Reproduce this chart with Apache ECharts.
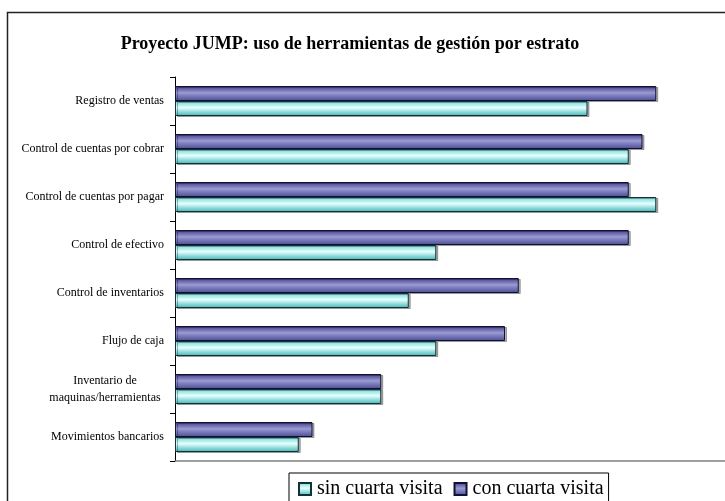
<!DOCTYPE html>
<html>
<head>
<meta charset="utf-8">
<script src="https://cdn.jsdelivr.net/npm/echarts@6/dist/echarts.min.js"></script>
<style>
  html, body { margin: 0; padding: 0; background: #fff; }
  #chart { width: 725px; height: 501px; }
</style>
</head>
<body>
<div id="chart"></div>
<script>
const categories = [
  'Registro de ventas',
  'Control de cuentas por cobrar',
  'Control de cuentas por pagar',
  'Control de efectivo',
  'Control de inventarios',
  'Flujo de caja',
  'Inventario de maquinas/herramientas',
  'Movimientos bancarios'
];
const conCuarta = [35, 34, 33, 33, 25, 24, 15, 10];
const sinCuarta = [30, 33, 35, 19, 17, 19, 15, 9];

const font = '"Liberation Serif", "DejaVu Serif", serif';

const purpleFill = new echarts.graphic.LinearGradient(0, 0, 0, 1, [
  { offset: 0, color: '#3c3c84' },
  { offset: 0.45, color: '#9a9ad4' },
  { offset: 1, color: '#4a4a94' }
]);
const cyanFill = new echarts.graphic.LinearGradient(0, 0, 0, 1, [
  { offset: 0, color: '#6fd6d6' },
  { offset: 0.45, color: '#e6ffff' },
  { offset: 1, color: '#3fb4b4' }
]);

const chart = echarts.init(document.getElementById('chart'));
chart.setOption({
  animation: false,
  backgroundColor: '#fff',
  title: {
    text: 'Proyecto JUMP: uso de herramientas de gestión por estrato',
    left: 345,
    textAlign: 'center',
    top: 30,
    textStyle: { fontFamily: font, fontSize: 18, fontWeight: 'bold', color: '#000' }
  },
  graphic: [{
    type: 'rect',
    shape: { x: 7.5, y: 12.5, width: 800, height: 600 },
    style: { fill: null, stroke: '#222', lineWidth: 1.5 },
    silent: true
  }],
  legend: {
    data: ['sin cuarta visita', 'con cuarta visita'],
    icon: 'rect',
    left: 289,
    top: 473,
    itemWidth: 12,
    itemHeight: 12,
    itemGap: 11,
    padding: [6, 5, 8, 9],
    borderColor: '#000',
    borderWidth: 1,
    textStyle: { fontFamily: font, fontSize: 20, color: '#000', padding: [0, 0, 0, 1] }
  },
  grid: { left: 175, right: 0, top: 77, bottom: 40 },
  xAxis: {
    type: 'value',
    min: 0,
    max: 40,
    axisLabel: { show: false },
    axisTick: { show: false },
    splitLine: { show: false },
    axisLine: { show: true, lineStyle: { color: '#808080', width: 1.5 } }
  },
  yAxis: {
    type: 'category',
    inverse: true,
    data: categories,
    axisLine: { lineStyle: { color: '#000', width: 1 } },
    axisTick: { show: true, length: 5, lineStyle: { color: '#000' } },
    axisLabel: {
      fontFamily: font,
      fontSize: 12,
      color: '#000',
      margin: 11,
      lineHeight: 17,
      formatter: function (v) {
        if (v.indexOf('/') > -1) {
          return '{c|Inventario de}\n{c|maquinas/herramientas}';
        }
        return v;
      },
      rich: {
        c: { fontFamily: font, fontSize: 12, color: '#000', width: 118, align: 'center', lineHeight: 17 }
      }
    }
  },
  series: [
    {
      name: 'con cuarta visita',
      type: 'bar',
      data: conCuarta,
      barWidth: 15,
      barGap: '0%',
      itemStyle: {
        color: purpleFill,
        borderColor: '#111133',
        borderWidth: 1,
        shadowColor: 'rgba(0,0,0,0.3)',
        shadowOffsetX: 2,
        shadowOffsetY: 1
      }
    },
    {
      name: 'sin cuarta visita',
      type: 'bar',
      data: sinCuarta,
      barWidth: 15,
      barGap: '0%',
      itemStyle: {
        color: cyanFill,
        borderColor: '#113333',
        borderWidth: 1,
        shadowColor: 'rgba(0,0,0,0.3)',
        shadowOffsetX: 2,
        shadowOffsetY: 1
      }
    }
  ]
});
</script>
</body>
</html>
